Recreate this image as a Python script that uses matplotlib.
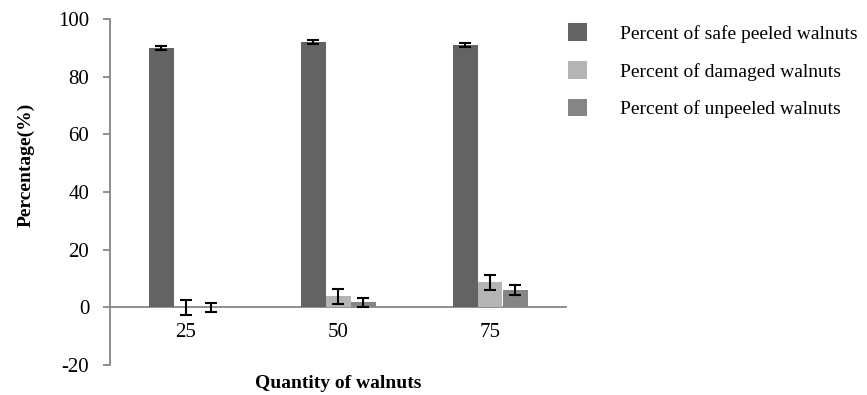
import numpy as np
import matplotlib.pyplot as plt
from matplotlib.patches import Patch

plt.rcParams['font.family'] = ['Liberation Serif', 'DejaVu Serif']
plt.rcParams['axes.unicode_minus'] = False

quantities = ["25", "50", "75"]
series = ["Percent of safe peeled walnuts", "Percent of damaged walnuts", "Percent of unpeeled walnuts"]
safe = [90.0, 92.0, 91.0]
damaged = [0.0, 3.8, 8.7]
unpeeled = [0.0, 1.7, 5.9]
safe_err = [0.7, 0.7, 0.7]
damaged_err = [2.6, 2.6, 2.6]
unpeeled_err = [1.6, 1.5, 1.7]

colors = ["#636363", "#b4b4b4", "#858585"]
axis_gray = "#868686"

fig = plt.figure(figsize=(8.67, 3.95), dpi=100)
ax = fig.add_axes([110 / 867, 1 - 365 / 395, 456 / 867, 346 / 395])

# put the category axis on the zero line first (this resets the ticks)
for s in ["top", "right"]:
    ax.spines[s].set_visible(False)
ax.spines["bottom"].set_position(("data", 0))
ax.spines["left"].set_color(axis_gray)
ax.spines["left"].set_linewidth(1.3)
ax.spines["bottom"].set_color(axis_gray)
ax.spines["bottom"].set_linewidth(1.3)
ax.spines["bottom"].set_zorder(1)

x = np.arange(len(quantities))
w = 25 / 152
values = [safe, damaged, unpeeled]
errs = [safe_err, damaged_err, unpeeled_err]
for i in range(3):
    ax.bar(x + (i - 1) * w, values[i], width=w, color=colors[i], zorder=2)
    ax.errorbar(x + (i - 1) * w, values[i], yerr=errs[i], fmt="none", ecolor="black",
                elinewidth=1.5, capsize=4, capthick=1.5, zorder=3)

ax.set_xlim(-0.5, 2.5)
ax.set_ylim(-20, 100)
ax.set_yticks(range(-20, 101, 20))
ax.set_xticks(x)
ax.set_xticklabels(quantities)

ax.tick_params(axis="y", direction="out", length=5, width=1.3, color=axis_gray,
               labelsize=15, pad=10)
ax.tick_params(axis="x", length=0, pad=11, labelsize=15)

ax.set_ylabel("Percentage(%)", fontsize=14, fontweight="bold")
ax.yaxis.set_label_coords(-0.165, 0.578)
ax.set_xlabel("Quantity of walnuts", fontsize=14, fontweight="bold")
ax.xaxis.set_label_coords(0.5, -0.028)

handles = [Patch(facecolor=c, edgecolor="none") for c in colors]
fig.legend(handles, series, loc="upper left", bbox_to_anchor=(550 / 867, 0.985),
           frameon=False, fontsize=14, handlelength=1.0, handleheight=1.0,
           handletextpad=1.7, labelspacing=0.95)

fig.savefig("out.png", dpi=100)
